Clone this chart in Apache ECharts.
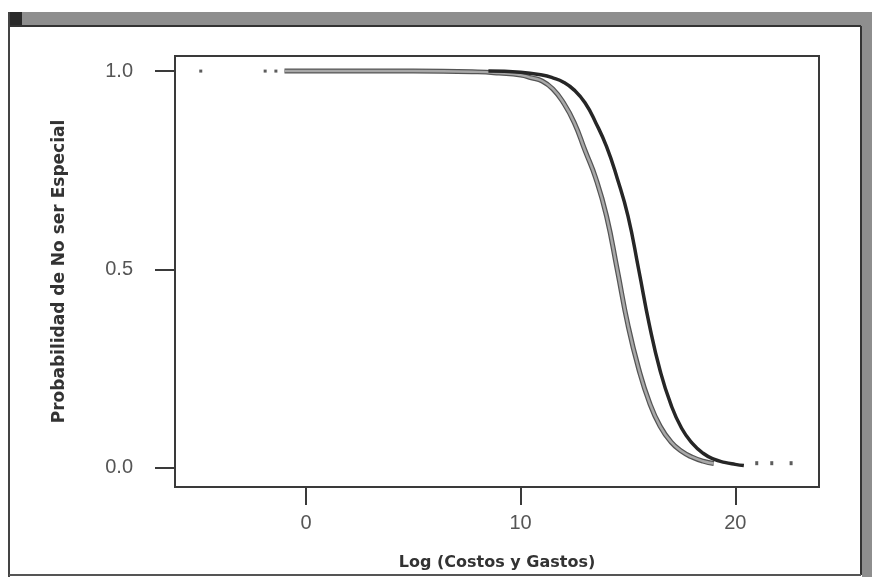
<!DOCTYPE html>
<html><head><meta charset="utf-8">
<script src="https://cdn.jsdelivr.net/npm/echarts@6/dist/echarts.min.js"></script>
<style>html,body{margin:0;padding:0;background:#fff}#c{width:872px;height:577px}</style>
</head><body><div id="c"></div>
<script>
// Data
const xTicks = [0, 10, 20];
const yTicks = [0.0, 0.5, 1.0];
const lightX = [-1, 2, 5, 8, 9, 10, 10.5, 11, 11.5, 12, 12.5, 13, 13.5, 14, 14.5, 15, 15.5, 16, 16.5, 17, 17.5, 18, 18.5, 19];
const lightY = [1, 1, 1, 0.998, 0.995, 0.99, 0.983, 0.975, 0.955, 0.92, 0.87, 0.80, 0.73, 0.635, 0.50, 0.36, 0.25, 0.165, 0.105, 0.066, 0.042, 0.027, 0.017, 0.011];
const darkX = [8.5, 10, 11, 11.5, 12, 12.5, 13, 13.5, 14, 14.5, 15, 15.5, 16, 16.5, 17, 17.5, 18, 18.5, 19, 19.5, 20, 20.4];
const darkY = [1, 0.997, 0.99, 0.983, 0.972, 0.952, 0.92, 0.87, 0.81, 0.73, 0.635, 0.50, 0.36, 0.245, 0.16, 0.10, 0.062, 0.037, 0.022, 0.014, 0.009, 0.006];
const topDotsX = [-4.9, -1.9, -1.4];
const topDotsY = [1, 1, 1];
const tailDotsX = [21.0, 21.7, 22.6];
const tailDotsY = [0.012, 0.012, 0.012];

const zip = (a, b) => a.map((v, i) => [v, b[i]]);

const chart = echarts.init(document.getElementById('c'), null, {renderer: 'canvas'});
chart.setOption({
  backgroundColor: '#ffffff',
  animation: false,
  grid: {left: 175, right: 53, top: 56, bottom: 90, show: true, borderColor: '#3a3a3a', borderWidth: 2, backgroundColor: 'transparent'},
  xAxis: {
    type: 'value', min: -6.1, max: 23.9,
    name: 'Log (Costos y Gastos)', nameLocation: 'middle', nameGap: 68,
    nameTextStyle: {fontFamily: 'DejaVu Sans', fontWeight: 'bold', fontSize: 16, color: '#333'},
    axisLine: {show: true, onZero: false, lineStyle: {color: '#3a3a3a', width: 2}},
    axisTick: {show: true, customValues: xTicks, length: 18, lineStyle: {color: '#3a3a3a', width: 2}},
    axisLabel: {customValues: xTicks, margin: 26, fontFamily: 'Liberation Sans', fontSize: 20, color: '#555', formatter: v => String(Math.round(v))},
    splitLine: {show: false}
  },
  yAxis: {
    type: 'value', min: -0.048, max: 1.038,
    name: 'Probabilidad de No ser Especial', nameLocation: 'middle', nameGap: 107,
    nameTextStyle: {fontFamily: 'DejaVu Sans', fontWeight: 'bold', fontSize: 17, color: '#333'},
    axisLine: {show: true, onZero: false, lineStyle: {color: '#3a3a3a', width: 2}},
    axisTick: {show: true, customValues: yTicks, length: 20, lineStyle: {color: '#3a3a3a', width: 2}},
    axisLabel: {customValues: yTicks, margin: 42, fontFamily: 'Liberation Sans', fontSize: 20, color: '#555', formatter: v => v.toFixed(1)},
    splitLine: {show: false}
  },
  series: [
    {type: 'line', data: zip(lightX, lightY), smooth: true, symbol: 'none', lineStyle: {color: '#555', width: 5}, z: 2},
    {type: 'line', data: zip(lightX, lightY), smooth: true, symbol: 'none', lineStyle: {color: '#a8a8a8', width: 2.5}, z: 3},
    {type: 'line', data: zip(darkX, darkY), smooth: true, symbol: 'none', lineStyle: {color: '#262626', width: 3.5}, z: 4},
    {type: 'scatter', data: zip(topDotsX, topDotsY), symbol: 'rect', symbolSize: [3, 3], itemStyle: {color: '#333'}},
    {type: 'scatter', data: zip(tailDotsX, tailDotsY), symbol: 'rect', symbolSize: [3, 4], itemStyle: {color: '#333'}}
  ],
  graphic: [
    {type: 'rect', shape: {x: 8, y: 12, width: 864, height: 14}, style: {fill: '#8e8e8e'}, silent: true},
    {type: 'rect', shape: {x: 8, y: 12, width: 14, height: 15}, style: {fill: '#2a2a2a'}, silent: true},
    {type: 'rect', shape: {x: 862, y: 12, width: 10, height: 565}, style: {fill: '#8e8e8e'}, silent: true},
    {type: 'line', shape: {x1: 9, y1: 26, x2: 861, y2: 26}, style: {stroke: '#333', lineWidth: 2}, silent: true},
    {type: 'line', shape: {x1: 9, y1: 12, x2: 9, y2: 577}, style: {stroke: '#444', lineWidth: 2}, silent: true},
    {type: 'line', shape: {x1: 861, y1: 26, x2: 861, y2: 575}, style: {stroke: '#333', lineWidth: 2}, silent: true},
    {type: 'line', shape: {x1: 9, y1: 575, x2: 861, y2: 575}, style: {stroke: '#555', lineWidth: 2}, silent: true}
  ]
});
</script></body></html>
